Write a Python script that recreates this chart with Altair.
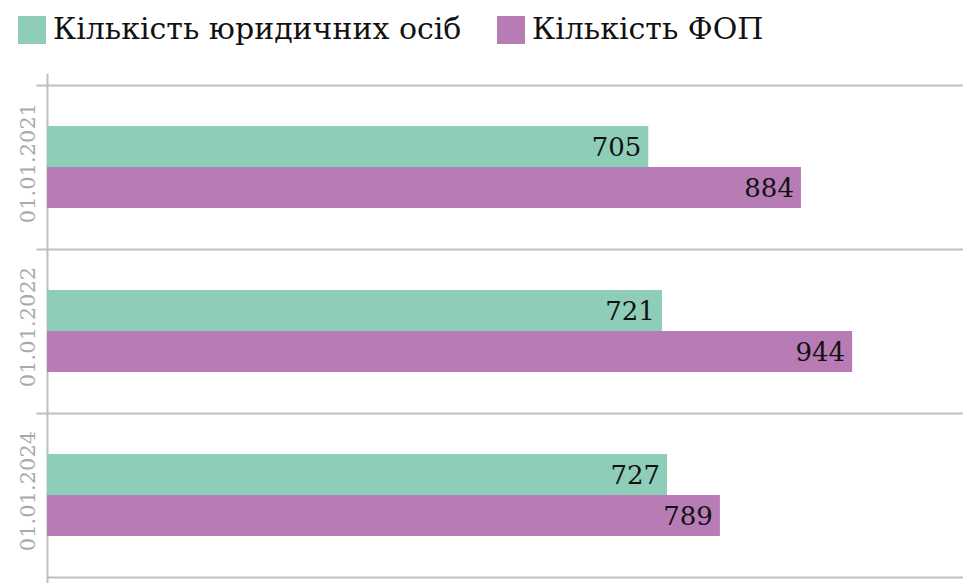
import altair as alt
import pandas as pd

categories = ["01.01.2021", "01.01.2022", "01.01.2024"]
series = ["Кількість юридичних осіб", "Кількість ФОП"]
legal_entities = [705, 721, 727]
fop = [884, 944, 789]
colors = ["#8ecdb7", "#b77cb6"]

rows = []
for i, c in enumerate(categories):
    rows.append({"date": c, "series": series[0], "value": legal_entities[i]})
    rows.append({"date": c, "series": series[1], "value": fop[i]})
df = pd.DataFrame(rows)

FONT = "DejaVu Serif"
GRID = "#bfbfbf"

y_enc = alt.Y(
    "date:N",
    sort=categories,
    scale=alt.Scale(paddingInner=0, paddingOuter=0),
    axis=alt.Axis(
        title=None,
        bandPosition=0,
        grid=True,
        gridColor=GRID,
        gridWidth=2,
        domainColor=GRID,
        domainWidth=2,
        tickColor=GRID,
        tickWidth=2,
        tickSize=11,
        labelAngle=270,
        labelAlign="center",
        labelBaseline="bottom",
        labelPadding=-2,
        labelOffset=-4,
        labelColor="#a9a9a9",
        labelFont=FONT,
        labelFontSize=21,
    ),
)
yoff = alt.YOffset("series:N", sort=series, scale=alt.Scale(paddingInner=0, paddingOuter=1))
xscale = alt.Scale(domain=[0, 1074], nice=False, zero=True)

bars = alt.Chart(df).mark_bar().encode(
    y=y_enc,
    yOffset=yoff,
    x=alt.X("value:Q", scale=xscale, axis=alt.Axis(
        title=None, orient="top", values=[0], labels=False, domain=False, grid=False,
        ticks=True, tickSize=12, tickColor=GRID, tickWidth=2)),
    color=alt.Color("series:N", sort=series,
                    scale=alt.Scale(domain=series, range=colors),
                    legend=alt.Legend(
                        title=None, orient="none", legendX=-30, legendY=-70,
                        direction="horizontal", symbolType="square", symbolSize=784,
                        symbolStrokeWidth=0, symbolOpacity=1, labelFont=FONT, labelFontSize=30,
                        labelColor="#111111", labelLimit=0, columnPadding=34, labelOffset=6)),
)

text = alt.Chart(df).mark_text(
    align="right", baseline="middle", dx=-7, dy=1, font=FONT, fontSize=26, color="#111111"
).encode(
    y=y_enc,
    yOffset=yoff,
    x=alt.X("value:Q", scale=xscale, axis=alt.Axis(
        title=None, orient="bottom", values=[0], labels=False, domain=True,
        domainColor=GRID, domainWidth=2, grid=False, ticks=True, tickSize=7,
        tickColor=GRID, tickWidth=2)),
    text="value:Q",
)

chart = alt.layer(bars, text).resolve_axis(x="independent").properties(
    width=916,
    height=492,
    padding={"left": 39, "top": 77, "right": 0, "bottom": 6},
    autosize=alt.AutoSizeParams(type="none"),
).configure_view(stroke=None).configure(background="white")

chart.save("out.html", embed_options={"renderer": "svg", "actions": False})
